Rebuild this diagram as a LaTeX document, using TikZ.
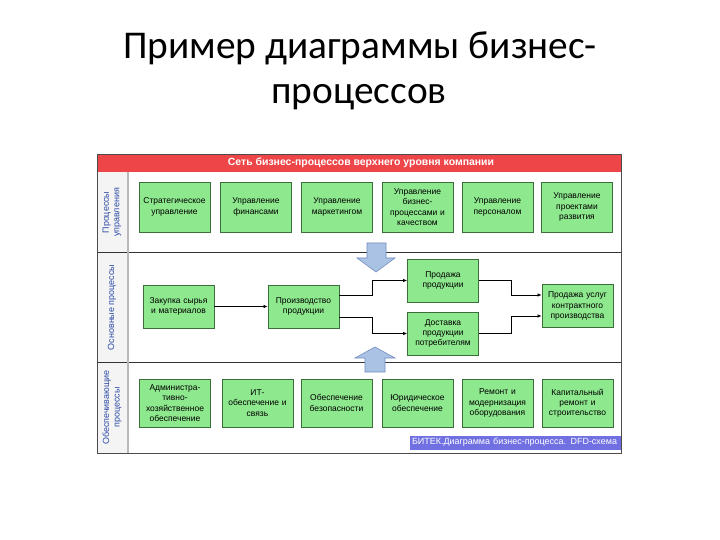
\documentclass[tikz,border=0pt]{standalone}
\usepackage{fontspec}
\setmainfont{Liberation Sans}
\newfontfamily\titlefont{Carlito}
\usetikzlibrary{arrows.meta}
\definecolor{boxfill}{RGB}{142,232,142}
\definecolor{boxline}{RGB}{60,110,60}
\definecolor{headred}{RGB}{238,70,72}
\definecolor{footblue}{RGB}{112,112,226}
\definecolor{arrfill}{RGB}{170,195,228}
\definecolor{arrline}{RGB}{115,140,190}
\definecolor{lblblue}{RGB}{45,75,165}
\begin{document}
\begin{tikzpicture}[x=1bp,y=-1bp,
  pbox/.style={draw=boxline, fill=boxfill, line width=0.8bp, minimum width=71bp,
    minimum height=50bp, align=center, inner sep=1bp, text width=69bp,
    font=\fontsize{8.5}{10.3}\selectfont},
  mbox/.style={pbox, minimum height=43bp},
  conn/.style={draw=black, line width=0.7bp, -{Latex[length=4bp,width=3.5bp]}},
  lane/.style={rotate=90, align=center, text=lblblue, font=\fontsize{9}{10.5}\selectfont},
  blockarrow/.style={fill=arrfill, draw=arrline, line width=0.6bp}
]
\useasboundingbox (0,0) rectangle (720,540);
% title
\node[font=\titlefont\fontsize{39.5}{46}\selectfont, anchor=base] (t1) at (360,59) {Пример диаграммы бизнес-};
\node[font=\titlefont\fontsize{39.5}{46}\selectfont, anchor=base] (t2) at (359,104) {процессов};

% frame
\fill[gray!9] (97,172) rectangle (127,453);
\fill[white] (129,172) rectangle (621,453);
\fill[headred] (97,154) rectangle (621,172);
\node[text=white, font=\bfseries\fontsize{10.5}{12}\selectfont] (head) at (361,163) {Сеть бизнес-процессов верхнего уровня компании};
\draw[line width=1bp, black!80] (97,253) -- (621,253);
\draw[line width=1bp, black!80] (97,362) -- (621,362);
\draw[line width=2.5bp, gray!55] (128,172) -- (128,453);
\draw[line width=0.8bp, black!70] (97,154) rectangle (621,453);

% lane labels
\node[lane] (l1) at (112,212.5) {Процессы\\управления};
\node[lane] (l2) at (112,307.5) {Основные процессы};
\node[lane] (l3) at (112,407.5) {Обеспечивающие\\процессы};

% block arrows
\filldraw[blockarrow] (367,243) -- (386,243) -- (386,258) -- (395,258) -- (376,272) -- (357,258) -- (367,258) -- cycle;
\filldraw[blockarrow] (365,372) -- (385,372) -- (385,358) -- (395,358) -- (375,347) -- (355,358) -- (365,358) -- cycle;

% row 1
\node[pbox] (a1) at (174.5,207) {Стратегическое\\управление};
\node[pbox] (a2) at (256,207) {Управление\\финансами};
\node[pbox] (a3) at (337,207) {Управление\\маркетингом};
\node[pbox] (a4) at (417.5,207) {Управление\\бизнес-\\процессами и\\качеством};
\node[pbox] (a5) at (497.5,207) {Управление\\персоналом};
\node[pbox] (a6) at (577,207) {Управление\\проектами\\развития};

% row 2
\node[mbox] (zak) at (178.5,306.5) {Закупка сырья\\и материалов};
\node[mbox] (prod) at (303.5,306.5) {Производство\\продукции};
\node[mbox] (sale) at (443,280.5) {Продажа\\продукции};
\node[mbox] (dlv) at (443,333.5) {Доставка\\продукции\\потребителям};
\node[mbox] (srv) at (577.5,306) {Продажа услуг\\контрактного\\производства};

\draw[conn] (zak.east) -- (prod.west);
\draw[conn] ([yshift=11bp]prod.east) -- ++(33,0) |- (sale.west);
\draw[conn] ([yshift=-11bp]prod.east) -- ++(33,0) |- (dlv.west);
\draw[conn] (sale.east) -- ++(32,0) |- ([yshift=11bp]srv.west);
\draw[conn] (dlv.east) -- ++(32,0) |- ([yshift=-10bp]srv.west);

% row 3
\node[pbox, minimum height=48bp] (c1) at (175,403) {Администра-\\тивно-\\хозяйственное\\обеспечение};
\node[pbox, minimum height=48bp] (c2) at (257.5,403) {ИТ-\\обеспечение и\\связь};
\node[pbox, minimum height=48bp] (c3) at (336.5,403) {Обеспечение\\безопасности};
\node[pbox, minimum height=48bp] (c4) at (417.5,403) {Юридическое\\обеспечение};
\node[pbox, minimum height=48bp] (c5) at (497.5,403) {Ремонт и\\модернизация\\оборудования};
\node[pbox, minimum height=48bp] (c6) at (577.5,403) {Капитальный\\ремонт и\\строительство};

% footer
\node[fill=footblue, minimum width=211bp, minimum height=14bp, inner sep=0pt,
  text=white, font=\fontsize{9}{10}\selectfont, text width=207bp, align=left] (foot) at (515.5,442.5)
  {БИТЕК.Диаграмма бизнес-процесса. DFD-схема};
\end{tikzpicture}
\end{document}
